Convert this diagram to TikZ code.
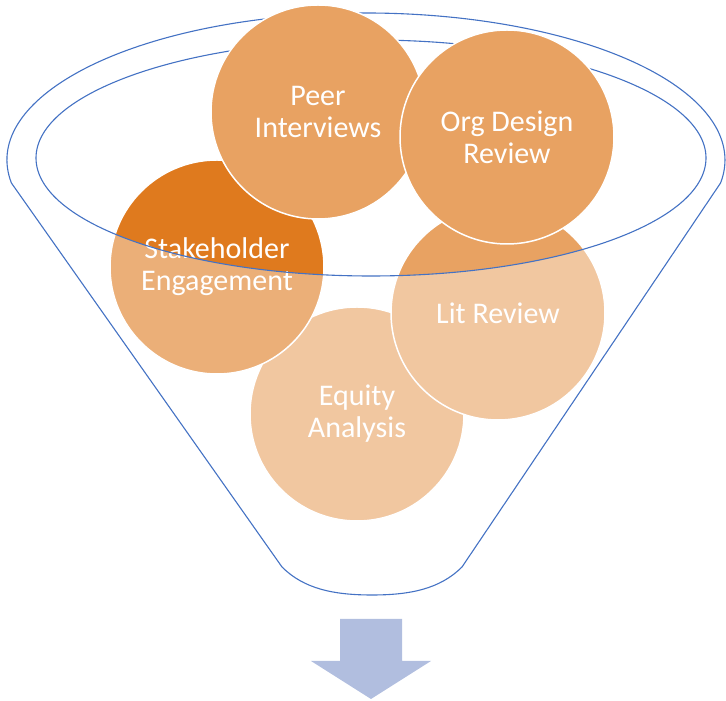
\documentclass[tikz,border=0pt]{standalone}
\usepackage{fontspec}
\setmainfont{Carlito}
\usepackage{tikz}
\definecolor{peach}{HTML}{E8A262}
\definecolor{rust}{HTML}{DF7A1E}
\definecolor{funnelblue}{HTML}{4472C4}
\definecolor{arrowblue}{HTML}{B1BEDF}
\def\rim{(11.4,518) arc[start angle=189, end angle=-9, x radius=359, y radius=147] -- (462,134) .. controls (440,112) and (410,106) .. (372,106) .. controls (334,106) and (304,112) .. (282,134) -- cycle}
\def\mouth{(371,543) ellipse [x radius=335, y radius=118]}

\begin{document}
\begin{tikzpicture}[x=1pt, y=1pt,
    bub/.style={circle, draw=white, line width=1.5pt, minimum size=214pt, inner sep=0pt,
      align=center, text=white, font=\fontsize{30}{32}\selectfont}]
        \useasboundingbox (0,0) rectangle (726,701);
        \node[bub, fill=peach] (equity) at (357,287) {Equity\\Analysis};
        \node[bub, fill=peach] (lit) at (498,388) {Lit Review};
        \node[bub, fill=rust] (stake) at (217,434) {Stakeholder\\Engagement};
        \fill[white, fill opacity=0.4, even odd rule] \rim \mouth;
        \draw[funnelblue, line width=1.1pt, line join=round] \rim;
        \draw[funnelblue, line width=1.1pt] \mouth;
        \node[bub, fill=peach] (peer) at (318,589) {Peer\\Interviews};
        \node[bub, fill=peach] (org) at (507,564) {Org Design\\Review};
        \fill[arrowblue] (340,82) -- (402,82) -- (402,40) -- (431,40) -- (371,2)
          -- (311,40) -- (340,40) -- cycle;
      \end{tikzpicture}
\end{document}
